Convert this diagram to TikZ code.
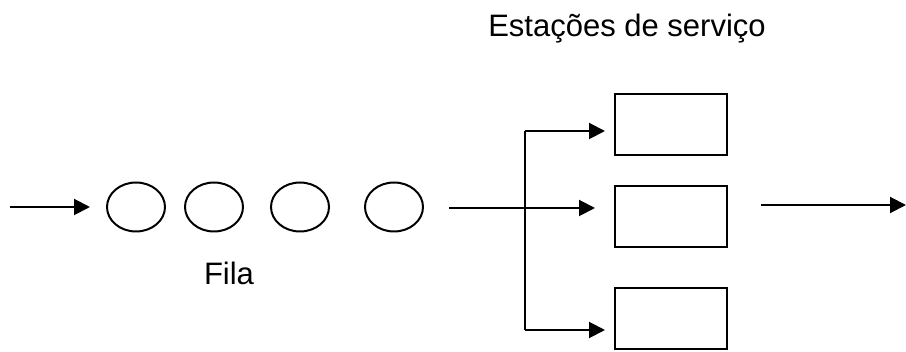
\documentclass[tikz,border=0pt]{standalone}
\usepackage{fontspec}
\setmainfont{Liberation Sans}
\usetikzlibrary{shapes.geometric,arrows.meta}
\begin{document}
\begin{tikzpicture}[x=1pt,y=-1pt,
  line width=2pt,
  client/.style={draw,ellipse,minimum width=58pt,minimum height=49pt,inner sep=0pt},
  server/.style={draw,rectangle,minimum width=112pt,minimum height=61pt,inner sep=0pt},
  flow/.style={-{Triangle[length=16pt,width=16pt]}},
  lbl/.style={font=\fontsize{31}{36}\selectfont,inner sep=0pt,anchor=base}]
\useasboundingbox (0,0) rectangle (906,352);
% queue of waiting clients
\node[client] (e1) at (136,207) {};
\node[client] (e2) at (214,207) {};
\node[client] (e3) at (300,207) {};
\node[client] (e4) at (394,207) {};
% service stations
\node[server] (s1) at (671,125) {};
\node[server] (s2) at (671,217) {};
\node[server] (s3) at (671,319) {};
% labels
\node[lbl] (title) at (627,37) {Estações de serviço};
\node[lbl] (fila) at (229,285) {Fila};
% arrivals
\coordinate (src) at (10,207);
\draw[flow] (src) -- ([xshift=-16pt]e1.west);
% dispatch to the stations
\coordinate (q) at (449,208);
\coordinate (j) at (525,208);
\coordinate (jt) at (525,131);
\coordinate (jb) at (525,330);
\coordinate (t1) at (605,131);
\coordinate (t2) at (595,208);
\coordinate (t3) at (605,330);
\draw[line width=1.2pt] (q) -- (j);
\draw (jt) -- (jb);
\draw[flow] (j) -- (t2);
\draw[flow] (jt) -- (t1);
\draw[flow] (jb) -- (t3);
% departures
\coordinate (out) at (761,205);
\coordinate (sink) at (906,205);
\draw[flow] (out) -- (sink);
\end{tikzpicture}
\end{document}
